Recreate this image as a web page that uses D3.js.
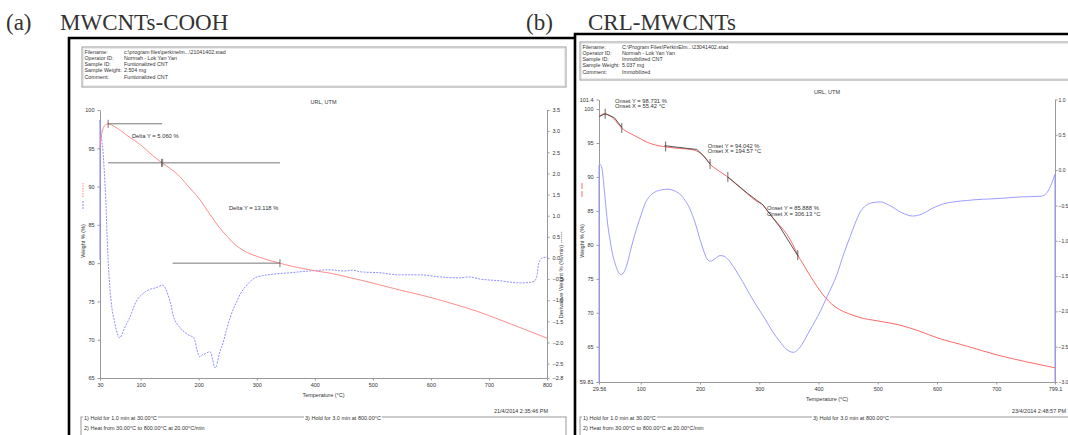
<!DOCTYPE html>
<html>
<head>
<meta charset="utf-8">
<script src="https://cdn.jsdelivr.net/npm/d3@7"></script>
<style>
  body { margin: 0; background: #fff; }
  text { font-family: "Liberation Sans", Arial, sans-serif; fill: #333; }
</style>
</head>
<body>
<div id="chart"></div>
<script>
// ---- panel (a): MWCNTs-COOH ----
const tempTicksA = [30, 100, 200, 300, 400, 500, 600, 700, 800];
const weightTicksA = [100, 95, 90, 85, 80, 75, 70, 65];
const derivTicksA = [3.5, 3.0, 2.5, 2.0, 1.5, 1.0, 0.5, 0.0, -0.5, -1.0, -1.5, -2.0, -2.5, -2.84];

// [temperature °C, weight %]
const weightA = [[30,95.0],[31,95.9],[33,96.9],[36,97.7],[40,98.1],[44,98.2],[50,98.05],[60,97.6],[68,97.2],
  [76,96.7],[90,96.0],[104,95.2],[120,94.1],[137,93.1],[150,92.4],[165,91.5],[180,90.2],[200,88.5],[220,86.3],
  [235,84.7],[249,83.5],[260,82.6],[270,82.0],[283,81.4],[300,80.9],[320,80.4],[340,80.0],[360,79.6],[380,79.3],
  [400,79.0],[426,78.7],[450,78.3],[478,77.8],[510,77.2],[546,76.5],[590,75.7],[633,74.8],[680,73.7],[719,72.6],
  [760,71.4],[800,70.2]];

// [temperature °C, derivative weight %/min]
const derivA = [[30,3.26],[32,2.9],[35,2.55],[38,1.9],[40,1.37],[42,0.6],[44,-0.05],[47,-0.7],[51,-1.23],[55,-1.5],
  [58,-1.70],[61,-1.83],[64,-1.89],[68,-1.8],[71,-1.7],[75,-1.58],[80,-1.45],[85,-1.28],[90,-1.1],[96,-0.95],
  [102,-0.87],[108,-0.8],[113,-0.76],[119,-0.73],[125,-0.71],[131,-0.68],[137,-0.64],[142,-0.7],[147,-0.87],
  [152,-1.1],[156,-1.35],[159,-1.47],[165,-1.6],[171,-1.70],[177,-1.77],[182,-1.82],[187,-1.85],[190,-1.87],
  [194,-1.98],[197,-2.17],[200,-2.30],[202,-2.34],[206,-2.29],[211,-2.27],[216,-2.23],[220,-2.22],[224,-2.4],
  [228,-2.60],[231,-2.55],[233,-2.41],[237,-2.2],[242,-2.01],[248,-1.7],[254,-1.42],[259,-1.23],[265,-1.05],
  [271,-0.87],[277,-0.74],[283,-0.64],[290,-0.54],[297,-0.47],[310,-0.42],[330,-0.38],[358,-0.35],[380,-0.32],
  [400,-0.30],[426,-0.28],[450,-0.31],[465,-0.29],[480,-0.33],[512,-0.35],[546,-0.40],[581,-0.40],[616,-0.45],
  [650,-0.47],[665,-0.45],[685,-0.50],[719,-0.54],[754,-0.59],[770,-0.58],[778,-0.55],[783,-0.4],[785,-0.17],
  [788,-0.05],[792,0.0],[800,0.02]];
const derivHoldA = [[30,-0.05],[30,3.26]];

const deltaLinesA = [{w: 98.2, t0: 44, t1: 137}, {w: 93.1, t0: 44, t1: 340}, {w: 80.0, t0: 155, t1: 340}];
const deltaTicksA = [[44, 98.2], [136, 93.1], [138, 93.1], [340, 80.0]];
const deltaLabelsA = [{t: 85, w: 96.3, text: "Delta Y = 5.060 %"}, {t: 252, w: 86.9, text: "Delta Y = 13.118 %"}];

const headerA = [["Filename:", "c:\\program files\\perkinelm...\\21041402.stad"], ["Operator ID:", "Normah - Lok Yan Yan"],
  ["Sample ID:", "Funtionalized CNT"], ["Sample Weight:", "2.504 mg"], ["Comment:", "Funtionalized CNT"]];

// ---- panel (b): CRL-MWCNTs ----
const tempTicksB = [29.56, 100, 200, 300, 400, 500, 600, 700, 799.1];
const weightTicksB = [101.4, 100, 95, 90, 85, 80, 75, 70, 65, 59.81];
const derivTicksB = [1.0, 0.5, 0.0, -0.5, -1.0, -1.5, -2.0, -2.5, -3.0];

const weightB = [[29.56,98.8],[33,99.1],[38,99.3],[44,99.2],[50,98.9],[58,98.2],[68,97.2],[78,96.6],[87,96.2],
  [100,95.6],[111,95.1],[125,94.7],[144,94.4],[165,94.2],[188,94.0],[197,93.7],[205,93.2],[212,92.5],[217,91.9],
  [230,91.0],[245,90.1],[260,89.0],[279,87.6],[294,86.5],[306,85.9],[315,84.9],[323,84.0],[335,82.8],[347,81.5],
  [357,80.0],[365,78.5],[374,77.2],[382,76.0],[392,74.6],[402,73.3],[412,72.2],[422,71.3],[435,70.5],[450,69.9],
  [470,69.3],[500,68.8],[537,68.2],[570,67.3],[601,66.3],[650,65.1],[701,63.8],[750,62.8],[799.1,61.9]];

const derivB = [[29.56,0.07],[31,0.08],[33,0.07],[35,0.0],[37,-0.15],[40,-0.41],[44,-0.75],[48,-0.98],[52,-1.17],
  [57,-1.33],[62,-1.44],[67,-1.48],[72,-1.44],[77,-1.33],[83,-1.13],[90,-0.91],[100,-0.65],[107,-0.48],[115,-0.37],
  [124,-0.31],[135,-0.28],[146,-0.27],[156,-0.29],[166,-0.34],[175,-0.43],[183,-0.55],[192,-0.75],[200,-0.98],
  [207,-1.16],[212,-1.26],[218,-1.29],[226,-1.25],[234,-1.21],[241,-1.22],[248,-1.27],[259,-1.40],[272,-1.58],
  [284,-1.76],[297,-1.94],[310,-2.11],[322,-2.28],[335,-2.43],[345,-2.53],[352,-2.57],[358,-2.58],[364,-2.55],
  [372,-2.47],[380,-2.35],[390,-2.2],[400,-2.05],[415,-1.78],[431,-1.48],[442,-1.2],[453,-0.95],[462,-0.75],
  [470,-0.6],[480,-0.5],[492,-0.46],[504,-0.45],[520,-0.5],[540,-0.6],[559,-0.65],[575,-0.62],[590,-0.55],
  [610,-0.48],[650,-0.43],[706,-0.40],[740,-0.38],[774,-0.37],[782,-0.35],[787,-0.30],[792,-0.22],[796,-0.13],
  [799.1,-0.06]];
const derivHoldStartB = [[29.56,-3.0],[29.56,0.07]];
const derivHoldEndB = [[799.1,-0.06],[799.1,-3.0]];

const onsetLinesB = [
  [[30,98.9],[40,99.3],[55.42,98.731],[68,97.3]],
  [[140,94.6],[194.57,94.042],[205,93.2],[217,91.9]],
  [[247,90.0],[280,87.6],[306.13,85.888],[335,82.6],[365,78.4]]
];
const onsetTicksB = [[40,99.3],[68,97.2],[142,94.5],[217,91.9],[247,90.0],[365,78.5]];
const onsetLabelsB = [
  {t: 56.6, w: 100.9, lines: ["Onset Y = 98.731 %", "Onset X = 55.42 °C"]},
  {t: 213, w: 94.3, lines: ["Onset Y = 94.042 %", "Onset X = 194.57 °C"]},
  {t: 313, w: 85.1, lines: ["Onset Y = 85.888 %", "Onset X = 306.13 °C"]}
];

const headerB = [["Filename:", "C:\\Program Files\\PerkinElm...\\23041402.stad"], ["Operator ID:", "Normah - Lok Yan Yan"],
  ["Sample ID:", "Immobilized CNT"], ["Sample Weight:", "5.037 mg"], ["Comment:", "Immobilized"]];

const methodSteps = ["1)  Hold for 1.0 min at 30.00°C", "2)  Heat from 30.00°C to 800.00°C at 20.00°C/min", "3)  Hold for 3.0 min at 800.00°C"];

const W = 1068, H = 435;
const svg = d3.select("#chart").append("svg").attr("width", W).attr("height", H);
svg.append("rect").attr("width", W).attr("height", H).attr("fill", "#fff");

const fmtB = d => (d === 101.4 || d === 59.81) ? String(d) : d3.format("d")(d);

function styleAxis(g, size) {
  g.attr("font-size", size || 5.5).attr("font-family", "Liberation Sans, Arial, sans-serif");
  g.select(".domain").attr("stroke", "#999");
  g.selectAll(".tick line").attr("stroke", "#999");
  g.selectAll(".tick text").attr("fill", "#444");
}

function drawPanel(p) {
  const g = svg.append("g");
  const x = d3.scaleLinear().domain(p.tDomain).range([p.left, p.right]);
  const yW = d3.scaleLinear().domain(p.wDomain).range([p.bottom, p.top]);
  const yD = d3.scaleLinear().domain(p.dDomain).range([p.bottom, p.top]);

  // frame
  g.append("path").attr("d", `M${p.frameX},${H} V${p.frameY} H${p.frameX2}`)
    .attr("fill", "none").attr("stroke", "#000").attr("stroke-width", 2.6);

  // header box
  g.append("rect").attr("x", p.hdrX).attr("y", p.hdrY).attr("width", p.hdrW).attr("height", p.hdrH)
    .attr("fill", "none").attr("stroke", "#999").attr("stroke-width", 1);
  g.append("rect").attr("x", p.hdrX + 1.5).attr("y", p.hdrY + 1.5).attr("width", p.hdrW - 3).attr("height", p.hdrH - 3)
    .attr("fill", "none").attr("stroke", "#ddd").attr("stroke-width", 0.6);
  p.header.forEach((r, i) => {
    g.append("text").attr("x", p.hdrX + 2.5).attr("y", p.hdrY + 6.5 + i * 6.3).attr("font-size", 5.3).text(r[0]);
    g.append("text").attr("x", p.hdrX + 42).attr("y", p.hdrY + 6.5 + i * 6.3).attr("font-size", 5.3).text(r[1]);
  });

  g.append("text").attr("x", (p.left + p.right) / 2).attr("y", p.top - 6).attr("text-anchor", "middle")
    .attr("font-size", 5.5).text("URL, UTM");

  // axes
  const ax = g.append("g").attr("transform", `translate(0,${p.bottom})`)
    .call(d3.axisBottom(x).tickValues(p.tTicks).tickSize(2.5).tickSizeOuter(0).tickFormat(d => String(d)));
  styleAxis(ax);
  const al = g.append("g").attr("transform", `translate(${p.left},0)`)
    .call(d3.axisLeft(yW).tickValues(p.wTicks).tickSize(2.5).tickSizeOuter(0).tickFormat(p.wFmt));
  styleAxis(al);
  const ar = g.append("g").attr("transform", `translate(${p.right},0)`)
    .call(d3.axisRight(yD).tickValues(p.dTicks).tickSize(2.5).tickPadding(p.rPad).tickSizeOuter(0).tickFormat(d3.format(".1f")));
  styleAxis(ar, p.rFont);

  g.append("text").attr("x", (p.left + p.right) / 2).attr("y", p.bottom + 19).attr("text-anchor", "middle")
    .attr("font-size", 5.5).text("Temperature (°C)");

  // left axis title with legend marks
  g.append("line").attr("x1", p.left - 17).attr("x2", p.left - 17).attr("y1", p.legY).attr("y2", p.legY + 15)
    .attr("stroke", p.redColor).attr("stroke-width", 1).attr("stroke-dasharray", p.redLegendDash);
  if (p.blueLegend) {
    g.append("line").attr("x1", p.left - 17).attr("x2", p.left - 17).attr("y1", p.legY + 18).attr("y2", p.legY + 27)
      .attr("stroke", p.blueColor).attr("stroke-width", 1).attr("stroke-dasharray", "2,1");
  }
  g.append("text").attr("transform", `translate(${p.left - 15},${p.legY + 58}) rotate(-90)`)
    .attr("text-anchor", "middle").attr("font-size", 5.5).text("Weight % (%)");

  // derivative curve
  const ld = d3.line().x(d => x(d[0])).y(d => yD(d[1])).curve(d3.curveMonotoneX);
  const lv = d3.line().x(d => x(d[0])).y(d => yD(d[1]));
  p.derivHolds.forEach(h => g.append("path").attr("d", lv(h)).attr("fill", "none")
    .attr("stroke", p.blueColor).attr("stroke-width", 1.1));
  g.append("path").attr("d", ld(p.deriv)).attr("fill", "none").attr("stroke", p.blueColor)
    .attr("stroke-width", 1).attr("stroke-dasharray", p.blueDash);

  // weight curve
  g.append("path").attr("d", d3.line().x(d => x(d[0])).y(d => yW(d[1])).curve(d3.curveMonotoneX)(p.weight))
    .attr("fill", "none").attr("stroke", p.redColor).attr("stroke-width", 1);

  p.annotate(g, x, yW);
}

const redA = "#ff8c8c", blueA = "#8e8eff";

drawPanel({
  tDomain: [30, 800], wDomain: [65, 100], dDomain: [-2.84, 3.5],
  left: 100, right: 547, top: 110, bottom: 378,
  frameX: 69, frameY: 38, frameX2: 574,
  hdrX: 82, hdrY: 47, hdrW: 484, hdrH: 40, header: headerA,
  tTicks: tempTicksA, wTicks: weightTicksA, dTicks: derivTicksA, wFmt: d3.format("d"), rPad: 3, rFont: 5.5,
  weight: weightA, deriv: derivA, derivHolds: [derivHoldA],
  redColor: redA, blueColor: blueA, blueDash: "2,1.2", redLegendDash: "1.5,1", blueLegend: true,
  legY: 183,
  annotate: (g, x, yW) => {
    deltaLinesA.forEach(l => g.append("line").attr("x1", x(l.t0)).attr("x2", x(l.t1)).attr("y1", yW(l.w)).attr("y2", yW(l.w))
      .attr("stroke", "#777").attr("stroke-width", 1));
    deltaTicksA.forEach(t => g.append("line").attr("x1", x(t[0])).attr("x2", x(t[0]))
      .attr("y1", yW(t[1]) - 4).attr("y2", yW(t[1]) + 4).attr("stroke", "#555").attr("stroke-width", 0.8));
    deltaLabelsA.forEach(l => g.append("text").attr("x", x(l.t)).attr("y", yW(l.w)).attr("font-size", 5.8).text(l.text));
  }
});

const redB = "#ff6a6a", blueB = "#9d9dff";

drawPanel({
  tDomain: [29.56, 799.1], wDomain: [59.81, 101.4], dDomain: [-3.0, 1.0],
  left: 599, right: 1055, top: 99.5, bottom: 382,
  frameX: 575, frameY: 34, frameX2: W,
  hdrX: 580, hdrY: 42, hdrW: 500, hdrH: 38, header: headerB,
  tTicks: tempTicksB, wTicks: weightTicksB, dTicks: derivTicksB, wFmt: fmtB, rPad: 1, rFont: 5,
  weight: weightB, deriv: derivB, derivHolds: [derivHoldStartB, derivHoldEndB],
  redColor: redB, blueColor: blueB, blueDash: null, redLegendDash: "6,2", blueLegend: false,
  legY: 183,
  annotate: (g, x, yW) => {
    const lw = d3.line().x(d => x(d[0])).y(d => yW(d[1]));
    onsetLinesB.forEach(l => g.append("path").attr("d", lw(l)).attr("fill", "none")
      .attr("stroke", "#444").attr("stroke-width", 0.9));
    onsetTicksB.forEach(t => g.append("line").attr("x1", x(t[0])).attr("x2", x(t[0]))
      .attr("y1", yW(t[1]) - 5).attr("y2", yW(t[1]) + 5).attr("stroke", "#444").attr("stroke-width", 0.8));
    onsetLabelsB.forEach(l => l.lines.forEach((s, i) => g.append("text").attr("x", x(l.t)).attr("y", yW(l.w) + i * 5.6)
      .attr("font-size", 5.8).text(s)));
  }
});

// right axis title of (a)
svg.append("text").attr("transform", "translate(563,275) rotate(-90)").attr("text-anchor", "middle")
  .attr("font-size", 5.8).text("Derivative Weight % (%/min) ------");

// footers
function footer(x0, x1, x3, stamp, stampX) {
  svg.append("text").attr("x", stampX).attr("y", 413).attr("text-anchor", "end").attr("font-size", 5.5).text(stamp);
  svg.append("rect").attr("x", x0).attr("y", 417).attr("width", x1 - x0).attr("height", 30)
    .attr("fill", "none").attr("stroke", "#999").attr("stroke-width", 1);
  [[x0 + 3, 420, methodSteps[0]], [x0 + 3, 430, methodSteps[1]], [x3, 420, methodSteps[2]]].forEach(r => {
    const t = svg.append("text").attr("x", r[0]).attr("y", r[1]).attr("font-size", 5.5).text(r[2]);
    if (r[1] === 420) {
      const b = t.node().getBBox();
      svg.insert("rect", () => t.node()).attr("x", b.x - 1).attr("y", b.y).attr("width", b.width + 2).attr("height", b.height)
        .attr("fill", "#fff");
    }
  });
}
footer(81, 566, 305, "21/4/2014 2:35:46 PM", 548);
footer(580, 1080, 813, "23/4/2014 2:48:57 PM", 1066);

// panel captions
const captions = [["(a)", 6], ["MWCNTs-COOH", 60], ["(b)", 526], ["CRL-MWCNTs", 588]];
captions.forEach(c => svg.append("text").attr("x", c[1]).attr("y", 30).attr("font-size", 23)
  .style("font-family", "'Liberation Serif', 'Times New Roman', serif").attr("fill", "#000").text(c[0]));
</script>
</body>
</html>
